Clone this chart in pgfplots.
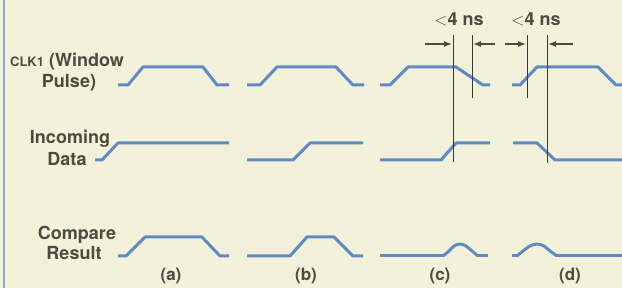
\documentclass[border=0pt]{standalone}
\usepackage{pgfplots}
\pgfplotsset{compat=1.18}
\usepackage{fontspec}
\setmainfont{TeX Gyre Heros}
\usetikzlibrary{arrows.meta}
\definecolor{bg}{HTML}{F3F1DA}
\definecolor{wave}{HTML}{5E8BC4}
\definecolor{txt}{HTML}{4B4B40}
\definecolor{vl}{HTML}{3A3A34}
\definecolor{edge}{HTML}{8EA8CF}
\begin{document}
\begin{tikzpicture}
\begin{axis}[scale only axis, width=622pt, height=288pt,
  xmin=0, xmax=622, ymin=0, ymax=288, y dir=reverse, hide axis, clip=true,
  every axis plot/.append style={line join=round, line cap=butt}]
\fill[bg] (axis cs:0,0) rectangle (axis cs:622,288);
% left border
\addplot[edge, line width=2pt] coordinates {(4,0) (4,288)};
% CLK1 (window pulse)
\addplot[wave, line width=3pt] coordinates {(118,85) (128,85) (143,67) (203,67) (217,85) (229,85)};
\addplot[wave, line width=3pt] coordinates {(247,85) (260,85) (277,67) (336,67) (353,85) (364,85)};
\addplot[wave, line width=3pt] coordinates {(380,85) (390,85) (408,67) (456,67) (483,85) (490,85)};
\addplot[wave, line width=3pt] coordinates {(512,85) (520,85) (537,67) (598,67) (616,85) (624,85)};
% Incoming data
\addplot[wave, line width=3pt] coordinates {(95,160) (102,160) (118,143) (229,143)};
\addplot[wave, line width=3pt] coordinates {(247,160) (293,160) (310,143) (363,143)};
\addplot[wave, line width=3pt] coordinates {(380,160) (441,160) (456,143) (490,143)};
\addplot[wave, line width=3pt] coordinates {(513,143) (537,143) (555,160) (624,160)};
% Compare result
\addplot[wave, line width=3pt] coordinates {(118,256) (126,256) (145,237) (202,237) (220,256) (229,256)};
\addplot[wave, line width=3pt] coordinates {(247,256) (290,256) (307,237) (334,237) (353,256) (363,256)};
\addplot[wave, line width=3pt] coordinates {(380,256) (444,256)};
\addplot[wave, line width=3pt, smooth, tension=0.5] coordinates {(443,256) (449,251) (454,246) (460,244) (466,246) (472,251) (478,256)};
\addplot[wave, line width=3pt] coordinates {(477,256) (488,256)};
\addplot[wave, line width=3pt] coordinates {(512,256) (518,256)};
\addplot[wave, line width=3pt, smooth, tension=0.5] coordinates {(517,256) (523,251) (530,246) (537,244) (544,246) (550,251) (557,256)};
\addplot[wave, line width=3pt] coordinates {(556,256) (624,256)};
% timing markers
\addplot[vl, line width=0.9pt] coordinates {(453,35) (453,162)};
\addplot[vl, line width=0.9pt] coordinates {(472,35) (472,98)};
\addplot[vl, line width=0.9pt] coordinates {(527,35) (527,98)};
\addplot[vl, line width=0.9pt] coordinates {(547,35) (547,163)};
\addplot[txt, line width=1.2pt, -{Latex[length=8pt,width=6pt]}] coordinates {(425,44) (452,44)};
\addplot[txt, line width=1.2pt, -{Latex[length=8pt,width=6pt]}] coordinates {(495,44) (473,44)};
\addplot[txt, line width=1.2pt, -{Latex[length=8pt,width=6pt]}] coordinates {(505,44) (526,44)};
\addplot[txt, line width=1.2pt, -{Latex[length=8pt,width=6pt]}] coordinates {(573,44) (548,44)};
% texts
\begin{scope}[every node/.style={text=txt, font=\fontsize{18}{20}\selectfont\bfseries, inner sep=0pt}]
\node[anchor=base] at (axis cs:67,67) {{\fontsize{13}{15}\selectfont CLK1} (Window};
\node[anchor=base] at (axis cs:69,88) {Pulse)};
\node[anchor=base] at (axis cs:70,144) {Incoming};
\node[anchor=base] at (axis cs:67,166) {Data};
\node[anchor=base] at (axis cs:77,240) {Compare};
\node[anchor=base] at (axis cs:74,260) {Result};
\end{scope}
\begin{scope}[every node/.style={text=txt, font=\fontsize{17}{19}\selectfont\bfseries, inner sep=0pt}]
\node[anchor=base] at (axis cs:171,281) {(a)};
\node[anchor=base] at (axis cs:306,281) {(b)};
\node[anchor=base] at (axis cs:440,281) {(c)};
\node[anchor=base] at (axis cs:570,281) {(d)};
\end{scope}
\begin{scope}[every node/.style={text=txt, font=\fontsize{18}{20}\selectfont\bfseries, inner sep=0pt}]
\node[anchor=base] at (axis cs:459,26) {{\mdseries$<$}4 ns};
\node[anchor=base] at (axis cs:536,26) {{\mdseries$<$}4 ns};
\end{scope}
\end{axis}
\end{tikzpicture}
\end{document}
